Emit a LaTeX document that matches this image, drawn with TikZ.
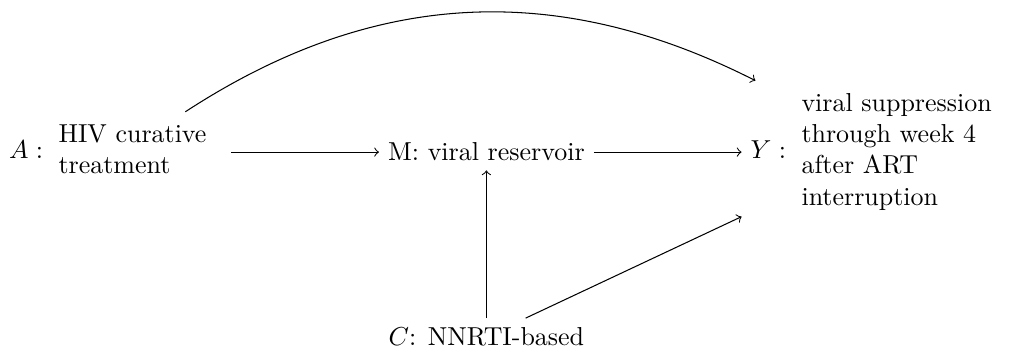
\documentclass[tikz,border=0pt]{standalone}
\usetikzlibrary{positioning}
\begin{document}
\begin{tikzpicture}[conn/.style={->}]
\node (a) {$A:$\begin{tabular}{l}HIV curative\\treatment\end{tabular}};
\node[right=2cm of a] (m) {M: viral reservoir};
\node[right=2cm of m] (y) {$Y:$\begin{tabular}{l}viral suppression\\through week 4\\after ART\\interruption\end{tabular}};
\node[below=2cm of m] (c) {$C$: NNRTI-based};
\useasboundingbox ([yshift=58.6pt]a.west) rectangle ([xshift=380.5pt,yshift=-74pt]a.west);
\draw[conn] (a) -- (m);
\draw[conn] (m) -- (y);
\draw[conn] (c) -- (m);
\draw[conn] (c) -- (y);
\draw[conn] (a) to[bend left] (y);
\end{tikzpicture}
\end{document}
